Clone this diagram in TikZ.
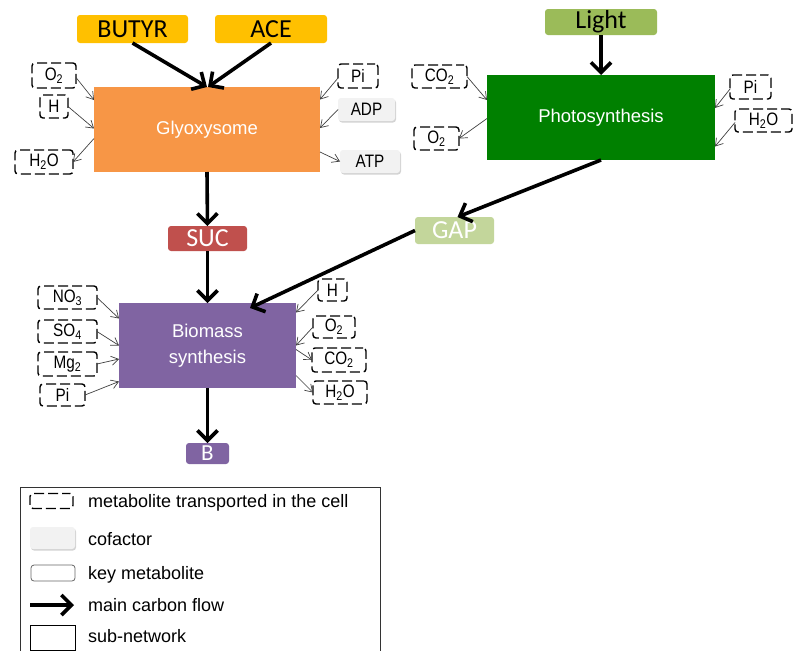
\documentclass[tikz,border=0pt]{standalone}
\usepackage{fontspec}
\setmainfont{Liberation Sans}
\newfontfamily\calfont{Carlito}
\newfontfamily\narrowfont[FakeStretch=0.85]{Liberation Sans}
\usetikzlibrary{arrows.meta,calc,shadows}
\definecolor{cbutyr}{HTML}{FFC000}
\definecolor{cglyox}{HTML}{F79646}
\definecolor{csuc}{HTML}{C0504D}
\definecolor{clight}{HTML}{9BBB59}
\definecolor{cphoto}{HTML}{008000}
\definecolor{cgap}{HTML}{C3D69B}
\definecolor{cbio}{HTML}{8064A2}
\definecolor{ccof}{HTML}{F2F2F2}
\begin{document}
\begin{tikzpicture}[x=1pt,y=-1pt,
  every node/.style={inner sep=0pt, outer sep=0pt, align=center},
  keymet/.style={rounded corners=3pt, minimum width=#1},
  subnet/.style={minimum width=#1, text=white, font=\fontsize{18.5}{26}\selectfont},
  dbox/.style={draw=black, line width=1.4pt, dash pattern=on 10pt off 4pt, dash phase=2pt, rounded corners=3pt,
     minimum width=#1, minimum height=23pt, font=\narrowfont\fontsize{18}{18}\selectfont},
  cof/.style={fill=ccof, rounded corners=3pt, drop shadow={opacity=0.35, shadow xshift=1pt, shadow yshift=-1.5pt},
     minimum width=#1, minimum height=23pt, font=\narrowfont\fontsize{18}{18}\selectfont},
  big/.style={font=\calfont\fontsize{26}{28}\selectfont},
  thick arrow/.style={line width=3.6pt, -{Straight Barb[length=10pt,width=20pt]}},
  thin arrow/.style={line width=0.7pt, draw=black!75, -{Straight Barb[length=7pt,width=9pt]}}
]
\useasboundingbox (0,0) rectangle (793,651);

% key metabolites
\node[keymet=111pt, minimum height=28pt, fill=cbutyr, big] (butyr) at (132.5,29) {BUTYR};
\node[keymet=112pt, minimum height=28pt, fill=cbutyr, big] (ace) at (271,29) {ACE};
\node[keymet=112pt, minimum height=26pt, fill=clight, big] (light) at (601,22) {Light};
\node[keymet=79pt, minimum height=25pt, fill=csuc, text=white, big] (suc) at (207.5,238.5) {SUC};
\node[keymet=79pt, minimum height=27pt, fill=cgap, text=white, big] (gap) at (454.5,230.5) {GAP};
\node[keymet=43pt, minimum height=21pt, fill=cbio, text=white, font=\calfont\fontsize{23}{24}\selectfont] (b) at (207.5,453.5) {B};

% sub-networks
\node[subnet=226pt, minimum height=85pt, fill=cglyox] (glyox) at (207,129.5) {Glyoxysome};
\node[subnet=228pt, minimum height=85pt, fill=cphoto] (photo) at (601,117.5) {Photosynthesis};
\node[subnet=177pt, minimum height=85pt, fill=cbio] (bio) at (207.5,345.5) {Biomass\\synthesis};

% transported metabolites and cofactors: glyoxysome
\node[dbox=44pt, minimum height=25pt] (o2a) at (54,75.5) {O\textsubscript{2}};
\node[dbox=28pt] (ha) at (54,106.5) {H};
\node[dbox=58pt, minimum height=24pt] (h2oa) at (44,162) {H\textsubscript{2}O};
\node[dbox=40pt, minimum height=24pt] (pia) at (358,76) {Pi};
\node[cof=57pt] (adp) at (366.5,109.5) {ADP};
\node[cof=60pt] (atp) at (370,161.5) {ATP};

% photosynthesis
\node[dbox=55pt] (co2b) at (439.5,76.5) {CO\textsubscript{2}};
\node[dbox=45pt] (o2b) at (436.5,138.5) {O\textsubscript{2}};
\node[dbox=41pt, minimum height=24pt] (pib) at (750.5,87) {Pi};
\node[dbox=57pt] (h2ob) at (763.5,120.5) {H\textsubscript{2}O};

% biomass
\node[dbox=59pt] (no3) at (67.5,297.5) {NO\textsubscript{3}};
\node[dbox=59pt] (so4) at (67.5,331.5) {SO\textsubscript{4}};
\node[dbox=59pt, minimum height=24pt] (mg2) at (67.5,364) {Mg\textsubscript{2}};
\node[dbox=45pt, minimum height=22pt] (pic) at (62.5,395) {Pi};
\node[dbox=29pt, minimum height=22pt] (hc) at (332.5,290) {H};
\node[dbox=42pt, minimum height=22pt] (o2c) at (334,327) {O\textsubscript{2}};
\node[dbox=54pt, minimum height=24pt] (co2c) at (339,360) {CO\textsubscript{2}};
\node[dbox=54pt] (h2oc) at (340,392.5) {H\textsubscript{2}O};

% thin arrows
\draw[thin arrow] ($(o2a.east)+(0,2)$) -- ($(glyox.west)+(0,-29.5)$);
\draw[thin arrow] (ha.east) -- ($(glyox.west)+(0,-1)$);
\draw[thin arrow] ($(glyox.west)+(0,9)$) -- (h2oa.east);
\draw[thin arrow] ($(pia.west)+(0,2)$) -- ($(glyox.east)+(0,-30)$);
\draw[thin arrow] (adp.west) -- ($(glyox.east)+(0,-1.5)$);
\draw[thin arrow] ($(glyox.east)+(0,22.5)$) -- (atp.west);

\draw[thin arrow] (co2b.east) -- ($(photo.west)+(0,-17.5)$);
\draw[thin arrow] ($(photo.west)+(0,1)$) -- (o2b.east);
\draw[thin arrow] ($(pib.west)+(0,2)$) -- ($(photo.east)+(0,-9.5)$);
\draw[thin arrow] ($(h2ob.west)+(0,2)$) -- ($(photo.east)+(0,29)$);

\draw[thin arrow] (no3.east) -- ($(bio.west)+(0,-27)$);
\draw[thin arrow] (so4.east) -- (bio.west);
\draw[thin arrow] (mg2.east) -- ($(bio.west)+(0,13.5)$);
\draw[thin arrow] (pic.east) -- ($(bio.west)+(0,36)$);
\draw[thin arrow] (hc.west) -- ($(bio.east)+(0,-33)$);
\draw[thin arrow] (o2c.west) -- (bio.east);
\draw[thin arrow] ($(bio.east)+(0,4)$) -- (co2c.west);
\draw[thin arrow] ($(bio.east)+(0,30)$) -- (h2oc.west);

% main carbon flow
\draw[thick arrow] (butyr.south) -- ($(glyox.north)+(0,0)$);
\draw[thick arrow] (ace.south) -- ($(glyox.north)+(1,0)$);
\draw[thick arrow] (glyox.south) -- (suc.north);
\draw[thick arrow] (suc.south) -- (bio.north);
\draw[thick arrow] (bio.south) -- (b.north);
\draw[thick arrow] (light.south) -- (photo.north);
\draw[thick arrow] (photo.south) -- ($(gap.north)+(3,0)$);
\draw[thick arrow] (gap.west) -- ($(bio.north east)+(-46,5)$);

% legend
\coordinate (lgbl) at (20,651);
\coordinate (lgtl) at (20,487);
\coordinate (lgtr) at (380,487);
\coordinate (lgbr) at (380,651);
\draw[line width=0.8pt, draw=black!80] (lgbl) -- (lgtl) -- (lgtr) -- (lgbr);
\node[dbox=43pt, minimum height=15pt] (lgdash) at (51.5,501) {};
\node[cof=45pt, minimum height=22pt] (lgcof) at (52.5,538) {};
\node[draw=black!60, line width=0.8pt, rounded corners=3pt, minimum width=44pt, minimum height=16pt] (lgkey) at (53,573) {};
\coordinate (lgas) at (30,605);
\coordinate (lgae) at (74,605);
\draw[thick arrow] (lgas) -- (lgae);
\node[draw=black, line width=1pt, minimum width=45pt, minimum height=25pt] (lgsub) at (52.5,637.5) {};
\begin{scope}[every node/.style={anchor=west, inner sep=0pt, font=\fontsize{18}{20}\selectfont}]
\node (lt1) at (88,503) {metabolite transported in the cell};
\node (lt2) at (88,539) {cofactor};
\node (lt3) at (88,575) {key metabolite};
\node (lt4) at (88,605) {main carbon flow};
\node (lt5) at (88,636) {sub-network};
\end{scope}
\end{tikzpicture}
\end{document}
